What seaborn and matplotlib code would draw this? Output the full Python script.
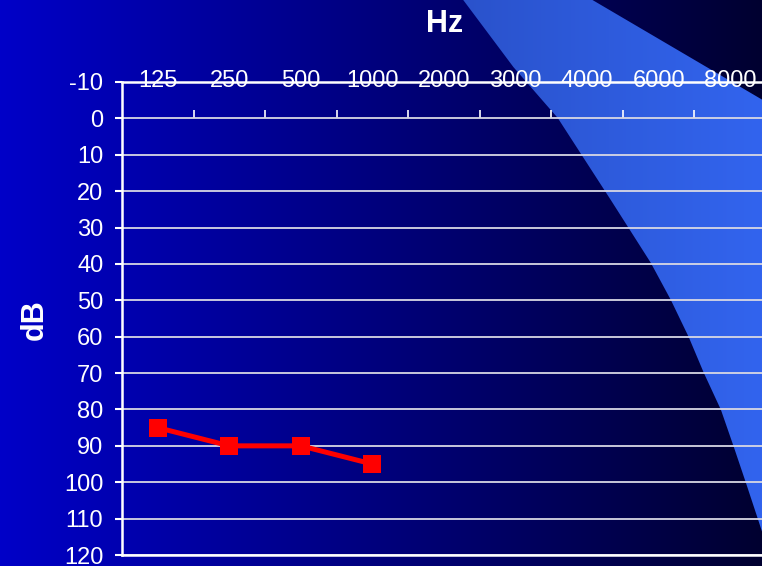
import numpy as np
import matplotlib
matplotlib.use("Agg")
import matplotlib.pyplot as plt
from matplotlib.patches import Polygon
import seaborn as sns
import pandas as pd

# ---- data ----
freq_labels = ["125", "250", "500", "1000", "2000", "3000", "4000", "6000", "8000"]
measured_freqs = ["125", "250", "500", "1000"]
measured_db = [85, 90, 90, 95]
db_ticks = list(range(-10, 121, 10))

# shaded band boundary (frequency index, dB)
band_left_x = [4.21, 4.27, 4.97, 5.59, 6.33, 6.89, 7.17, 7.42, 7.63, 7.87, 8.05, 8.22, 8.39, 8.45, 8.60]
band_left_db = [-34.1, -32.5, -14.1, -0.1, 22.4, 39.7, 49.9, 60.1, 69.9, 80.1, 90.3, 100.2, 110.3, 113.9, 125.0]
band_right_x = [9.20, 9.00, 8.45, 5.94]
band_right_db = [125.0, 1.0, -5.1, -34.1]

sns.set_theme(style="white")
plt.rcParams['font.family'] = ['Liberation Sans', 'DejaVu Sans']

W, H = 762, 566
fig = plt.figure(figsize=(W / 100, H / 100), dpi=100)

# background gradient
bg = fig.add_axes([0, 0, 1, 1], zorder=-2)
bg.set_axis_off()
grad = np.linspace(0, 1, 400)
c0 = np.array([0, 0, 200]) / 255
c1 = np.array([0, 0, 48]) / 255
img = (c0[None, :] * (1 - grad[:, None]) + c1[None, :] * grad[:, None])[None, :, :]
bg.imshow(img, extent=[0, 1, 0, 1], aspect='auto', transform=bg.transAxes)
bg.set_xlim(0, 1)
bg.set_ylim(0, 1)

# main axes
left = 122 / W
right = 766 / W
bottom = 1 - 555 / H
top = 1 - 82 / H
ax = fig.add_axes([left, bottom, right - left, top - bottom], zorder=1)
ax.set_facecolor('none')

df = pd.DataFrame({
    "x": [freq_labels.index(f) for f in measured_freqs],
    "db": measured_db,
})
sns.lineplot(data=df, x="x", y="db", ax=ax, color="#FF0000", linewidth=3.6,
             marker="s", markersize=12.5, markeredgewidth=0, zorder=5)

ax.set_xlim(-0.5, len(freq_labels) - 0.5)
ax.set_ylim(db_ticks[-1], db_ticks[0])
ax.set_yticks(db_ticks)
ax.set_yticklabels([str(t) for t in db_ticks])
ax.set_xticks(range(len(freq_labels)))
ax.set_xticklabels(freq_labels)
ax.set_xlabel("")
ax.set_ylabel("")
ax.xaxis.tick_top()
ax.tick_params(axis='x', length=0, pad=-7.5, labelsize=17, labelcolor='white')
ax.tick_params(axis='y', left=True, length=5, width=1.5, color='white', pad=8.5,
               labelsize=17, labelcolor='white', direction='out')
ax.yaxis.grid(True, color='#D8D8E4', linewidth=1.3)
ax.xaxis.grid(False)
for s in ['top', 'left', 'bottom']:
    ax.spines[s].set_visible(True)
    ax.spines[s].set_color('white')
    ax.spines[s].set_linewidth(1.8)
ax.spines['right'].set_visible(False)
ax.set_axisbelow(True)

# small ticks on the 0 dB line between categories
ymin, ymax = ax.get_ylim()
loc0 = (ymin - 0) / (ymin - ymax)
sec = ax.secondary_xaxis(loc0)
sec.set_xticks([i + 0.5 for i in range(len(freq_labels) - 1)])
sec.tick_params(axis='x', length=6, width=1.2, color='white', labeltop=False, labelbottom=False)
for s in sec.spines.values():
    s.set_visible(False)

# shaded band (gradient, clipped to polygon)
verts = list(zip(band_left_x, band_left_db)) + list(zip(band_right_x, band_right_db))
poly = Polygon(verts, closed=True, transform=ax.transData, facecolor='none', edgecolor='none')
b0 = np.array([30, 55, 150]) / 255
b1 = np.array([50, 100, 238]) / 255
bimg = (b0[None, :] * (1 - grad[:, None]) + b1[None, :] * grad[:, None])[None, :, :]
band = bg.imshow(bimg, extent=[0, 1, 0, 1], aspect='auto', transform=bg.transAxes, zorder=2)
band.set_clip_path(poly)

fig.text(445 / W, 1 - 24 / H, "Hz", ha='center', va='center', fontsize=22,
         fontweight='bold', color='white')
fig.text(35 / W, 1 - 320 / H, "dB", ha='center', va='center', fontsize=22,
         fontweight='bold', color='white', rotation=90)

fig.savefig("out.png", dpi=100)
